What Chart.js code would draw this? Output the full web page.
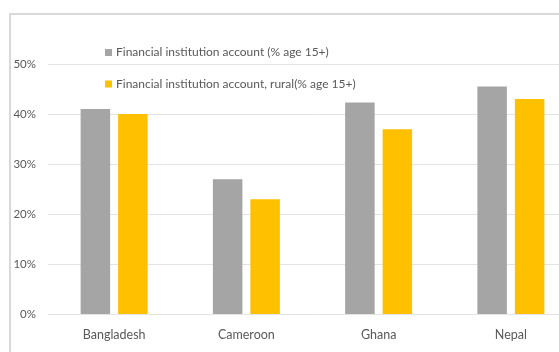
<!DOCTYPE html>
<html>
<head>
<meta charset="utf-8">
<script src="https://cdn.jsdelivr.net/npm/chart.js@4/dist/chart.umd.min.js"></script>
<style>
  html, body { margin: 0; padding: 0; background: #fff; overflow: hidden; }
  .wrap { position: relative; width: 559px; height: 352px; overflow: hidden; }
  #chartAccounts { position: absolute; left: 0; top: 0; }
</style>
</head>
<body>
<div class="wrap">
  <canvas id="chartAccounts" width="600" height="352" style="width:600px;height:352px"></canvas>
</div>
<script>
const countries = ["Bangladesh", "Cameroon", "Ghana", "Nepal"];
const accountAll = [41, 27, 42.3, 45.5];
const accountRural = [40, 23, 37, 43];
const yTicks = [0, 10, 20, 30, 40, 50];

const labelFont = "Lato, 'Open Sans', sans-serif";

// light gray frame: only its top and left sides fall inside the view
const chartFrame = {
  id: "chartFrame",
  beforeDraw(chart) {
    const ctx = chart.ctx;
    ctx.save();
    ctx.fillStyle = "#fff";
    ctx.fillRect(0, 0, chart.width, chart.height);
    ctx.strokeStyle = "#d9d9d9";
    ctx.lineWidth = 2;
    ctx.beginPath();
    ctx.moveTo(10, chart.height);
    ctx.lineTo(10, 14);
    ctx.lineTo(chart.width, 14);
    ctx.stroke();
    ctx.restore();
  },
};

// legend sits inside the plot area, top left, two rows
const insideLegend = {
  id: "insideLegend",
  afterDraw(chart) {
    const ctx = chart.ctx;
    ctx.save();
    ctx.font = "12px " + labelFont;
    ctx.textBaseline = "middle";
    ctx.textAlign = "left";
    chart.data.datasets.forEach((ds, i) => {
      const y = 52.5 + i * 31.5;
      ctx.fillStyle = ds.backgroundColor;
      ctx.fillRect(105, y - 3.5, 7, 7);
      ctx.fillStyle = "#595959";
      ctx.fillText(ds.label, 116, y);
    });
    ctx.restore();
  },
};

new Chart(document.getElementById("chartAccounts").getContext("2d"), {
  type: "bar",
  data: {
    labels: countries,
    datasets: [
      {
        label: "Financial institution account (% age 15+)",
        data: accountAll,
        backgroundColor: "#a5a5a5",
      },
      {
        label: "Financial institution account, rural(% age 15+)",
        data: accountRural,
        backgroundColor: "#ffc000",
      },
    ],
  },
  options: {
    responsive: false,
    animation: false,
    layout: { padding: { top: 64, right: 23, bottom: 0, left: 0 } },
    datasets: {
      bar: { categoryPercentage: 0.567, barPercentage: 0.787 },
    },
    plugins: {
      legend: { display: false },
      tooltip: { enabled: false },
    },
    scales: {
      x: {
        grid: { display: false, drawTicks: false },
        border: { display: false },
        ticks: {
          color: "#595959",
          padding: 13,
          font: { family: labelFont, size: 12.5 },
        },
        afterFit(scale) { scale.height = 37.5; },
      },
      y: {
        min: 0,
        max: 50,
        afterBuildTicks(scale) { scale.ticks = yTicks.map((v) => ({ value: v })); },
        grid: { color: "#e3e3e3", lineWidth: 1, drawTicks: false },
        border: { display: false },
        ticks: {
          color: "#595959",
          padding: 12,
          font: { family: labelFont, size: 11.5 },
          callback: (v) => v + "%",
        },
        afterFit(scale) { scale.width = 48; },
      },
    },
  },
  plugins: [chartFrame, insideLegend],
});
</script>
</body>
</html>
